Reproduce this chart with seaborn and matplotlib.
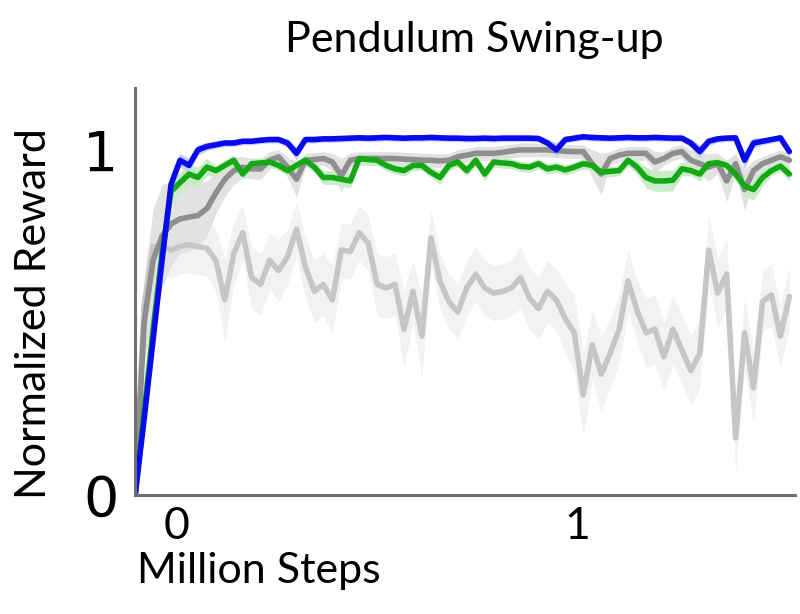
import numpy as np
import matplotlib
matplotlib.use("Agg")
import matplotlib.pyplot as plt
import matplotlib.transforms as mtransforms
import seaborn as sns

# x grid: million environment steps
steps = np.arange(0, 1.47, 0.02)

blue_mean = [0.0, 0.22, 0.45, 0.68, 0.90, 0.97, 0.955, 1.0, 1.01, 1.015,
             1.02, 1.02, 1.025, 1.025, 1.028, 1.03, 1.03, 1.02, 0.99, 1.03,
             1.03, 1.032, 1.032, 1.033, 1.034, 1.035, 1.034, 1.035, 1.036, 1.035,
             1.034, 1.035, 1.035, 1.036, 1.035, 1.034, 1.034, 1.033, 1.033, 1.034,
             1.033, 1.034, 1.034, 1.034, 1.034, 1.033, 1.02, 1.0, 1.03, 1.034,
             1.038, 1.036, 1.035, 1.034, 1.035, 1.036, 1.035, 1.035, 1.036, 1.035,
             1.034, 1.034, 1.02, 0.995, 1.025, 1.032, 1.034, 1.035, 0.97, 1.02,
             1.025, 1.03, 1.035, 0.995]
blue_spread = [0.0, 0.03, 0.04, 0.04, 0.03, 0.02, 0.02, 0.015, 0.012, 0.01,
               0.01, 0.01, 0.01, 0.01, 0.01, 0.01, 0.01, 0.012, 0.02, 0.01,
               0.01, 0.01, 0.01, 0.01, 0.01, 0.01, 0.01, 0.01, 0.01, 0.01,
               0.01, 0.01, 0.01, 0.01, 0.01, 0.01, 0.01, 0.01, 0.01, 0.01,
               0.01, 0.01, 0.01, 0.01, 0.01, 0.01, 0.012, 0.02, 0.01, 0.01,
               0.01, 0.01, 0.01, 0.01, 0.01, 0.01, 0.01, 0.01, 0.01, 0.01,
               0.01, 0.01, 0.012, 0.02, 0.012, 0.01, 0.01, 0.01, 0.025, 0.015,
               0.01, 0.01, 0.01, 0.015]

green_mean = [0.0, 0.24, 0.48, 0.70, 0.88, 0.905, 0.93, 0.92, 0.95, 0.94,
              0.955, 0.97, 0.93, 0.96, 0.962, 0.965, 0.955, 0.94, 0.955, 0.97,
              0.95, 0.92, 0.92, 0.915, 0.91, 0.975, 0.972, 0.97, 0.955, 0.945,
              0.94, 0.955, 0.955, 0.935, 0.92, 0.955, 0.965, 0.94, 0.97, 0.93,
              0.965, 0.962, 0.96, 0.952, 0.95, 0.96, 0.945, 0.95, 0.942, 0.95,
              0.96, 0.955, 0.935, 0.938, 0.94, 0.97, 0.95, 0.92, 0.91, 0.91,
              0.912, 0.945, 0.94, 0.93, 0.96, 0.963, 0.955, 0.93, 0.895, 0.885,
              0.92, 0.94, 0.953, 0.93]
green_spread = [0.0, 0.03, 0.04, 0.04, 0.03, 0.03, 0.03, 0.03, 0.025, 0.015,
                0.015, 0.015, 0.015, 0.015, 0.015, 0.015, 0.015, 0.015, 0.015, 0.015,
                0.015, 0.02, 0.02, 0.02, 0.02, 0.015, 0.015, 0.015, 0.015, 0.015,
                0.015, 0.015, 0.015, 0.015, 0.02, 0.015, 0.015, 0.015, 0.015, 0.02,
                0.015, 0.015, 0.015, 0.015, 0.015, 0.015, 0.015, 0.015, 0.015, 0.015,
                0.015, 0.015, 0.015, 0.015, 0.015, 0.015, 0.02, 0.03, 0.03, 0.03,
                0.03, 0.02, 0.015, 0.02, 0.015, 0.015, 0.015, 0.02, 0.03, 0.03,
                0.025, 0.015, 0.015, 0.02]

dark_mean = [0.0, 0.50, 0.68, 0.75, 0.785, 0.80, 0.805, 0.81, 0.83, 0.875,
             0.915, 0.94, 0.95, 0.945, 0.945, 0.97, 0.98, 0.95, 0.915, 0.97,
             0.972, 0.975, 0.965, 0.925, 0.97, 0.975, 0.975, 0.975, 0.975, 0.975,
             0.973, 0.972, 0.97, 0.97, 0.968, 0.97, 0.98, 0.985, 0.99, 0.99,
             0.99, 0.993, 0.997, 1.0, 1.0, 1.0, 1.0, 0.998, 0.996, 0.995,
             0.995, 0.96, 0.93, 0.975, 0.985, 0.99, 0.99, 0.99, 0.965, 0.975,
             0.99, 0.995, 0.97, 0.96, 0.95, 0.96, 0.91, 0.96, 0.885, 0.94,
             0.96, 0.97, 0.98, 0.97]
dark_spread = [0.0, 0.12, 0.15, 0.15, 0.12, 0.10, 0.10, 0.09, 0.08, 0.06,
               0.05, 0.04, 0.03, 0.03, 0.03, 0.025, 0.02, 0.03, 0.05, 0.02,
               0.02, 0.02, 0.025, 0.05, 0.02, 0.02, 0.02, 0.02, 0.02, 0.02,
               0.02, 0.02, 0.02, 0.02, 0.02, 0.02, 0.02, 0.02, 0.02, 0.02,
               0.02, 0.02, 0.02, 0.02, 0.02, 0.02, 0.02, 0.02, 0.02, 0.02,
               0.02, 0.04, 0.06, 0.02, 0.02, 0.02, 0.02, 0.02, 0.03, 0.02,
               0.02, 0.02, 0.03, 0.03, 0.04, 0.03, 0.06, 0.03, 0.06, 0.03,
               0.02, 0.02, 0.02, 0.02]

light_mean = [0.0, 0.55, 0.72, 0.72, 0.71, 0.72, 0.725, 0.72, 0.715, 0.68,
              0.565, 0.70, 0.76, 0.63, 0.61, 0.68, 0.65, 0.69, 0.77, 0.66,
              0.59, 0.61, 0.565, 0.71, 0.705, 0.76, 0.73, 0.61, 0.60, 0.61,
              0.48, 0.59, 0.46, 0.745, 0.62, 0.56, 0.53, 0.60, 0.64, 0.60,
              0.585, 0.59, 0.60, 0.63, 0.57, 0.54, 0.59, 0.565, 0.51, 0.47,
              0.29, 0.435, 0.35, 0.41, 0.48, 0.62, 0.535, 0.47, 0.48, 0.40,
              0.48, 0.42, 0.36, 0.41, 0.71, 0.585, 0.64, 0.165, 0.47, 0.31,
              0.56, 0.58, 0.46, 0.575]
light_spread = [0.0, 0.10, 0.09, 0.08, 0.08, 0.08, 0.08, 0.08, 0.08, 0.09,
                0.12, 0.09, 0.08, 0.09, 0.09, 0.08, 0.09, 0.08, 0.08, 0.09,
                0.09, 0.09, 0.10, 0.08, 0.08, 0.08, 0.08, 0.09, 0.09, 0.09,
                0.11, 0.09, 0.12, 0.08, 0.08, 0.08, 0.08, 0.08, 0.08, 0.08,
                0.08, 0.08, 0.08, 0.09, 0.09, 0.09, 0.09, 0.09, 0.10, 0.11,
                0.12, 0.10, 0.11, 0.10, 0.10, 0.09, 0.09, 0.10, 0.10, 0.10,
                0.10, 0.10, 0.10, 0.10, 0.10, 0.10, 0.10, 0.10, 0.10, 0.10,
                0.09, 0.09, 0.09, 0.09]

sns.set_style("white")
plt.rcParams["font.family"] = ["Lato", "DejaVu Sans"]
plt.rcParams["text.color"] = "black"
plt.rcParams["axes.labelcolor"] = "black"

fig = plt.figure(figsize=(8, 6.14), dpi=100)
ax = fig.add_axes([0.169, 0.194, 0.825, 0.663])

# bottom to top drawing order
series = [
    (light_mean, light_spread, "#c6c6c6", "#f2f2f2"),
    (dark_mean, dark_spread, "#8e8e8e", "#e2e2e2"),
    (green_mean, green_spread, "#14a814", "#c8ecc8"),
    (blue_mean, blue_spread, "#0a0aee", "#c8d0fa"),
]
for mean, spread, line_col, band_col in series:
    m = np.array(mean)
    s = np.array(spread)
    ax.fill_between(steps, m - s, m + s, color=band_col, lw=0)
    sns.lineplot(x=steps, y=m, color=line_col, lw=4.0, ax=ax)

ax.set_xlim(0, 1.473)
ax.set_ylim(0, 1.18)
sns.despine(ax=ax)
for side in ["left", "bottom"]:
    ax.spines[side].set_color("#707070")
    ax.spines[side].set_linewidth(2.2)

ax.set_xticks([0, 1])
ax.set_xticklabels(["0", "1"], fontsize=32)
ax.set_yticks([0, 1])
ax.set_yticklabels(["0", "1"], fontsize=40, family="DejaVu Sans")
ax.tick_params(direction="in", length=8, width=2, colors="#707070",
               labelcolor="black")
ax.tick_params(axis="y", pad=12)
ax.tick_params(axis="x", pad=8)

# labels in the source sit slightly off their ticks
for lbl, dx in zip(ax.get_xticklabels(), [0.41, -0.06]):
    off = mtransforms.ScaledTranslation(dx, 0, fig.dpi_scale_trans)
    lbl.set_transform(lbl.get_transform() + off)

ax.set_title("Pendulum Swing-up", fontsize=31, pad=26, x=0.514, color="black")
ax.set_ylabel("Normalized Reward", fontsize=31)
ax.yaxis.set_label_coords(-0.125, 0.445)
ax.set_xlabel("Million Steps", fontsize=31, loc="left")
ax.xaxis.set_label_coords(0.003, -0.14)

fig.savefig("out.png", dpi=100)
